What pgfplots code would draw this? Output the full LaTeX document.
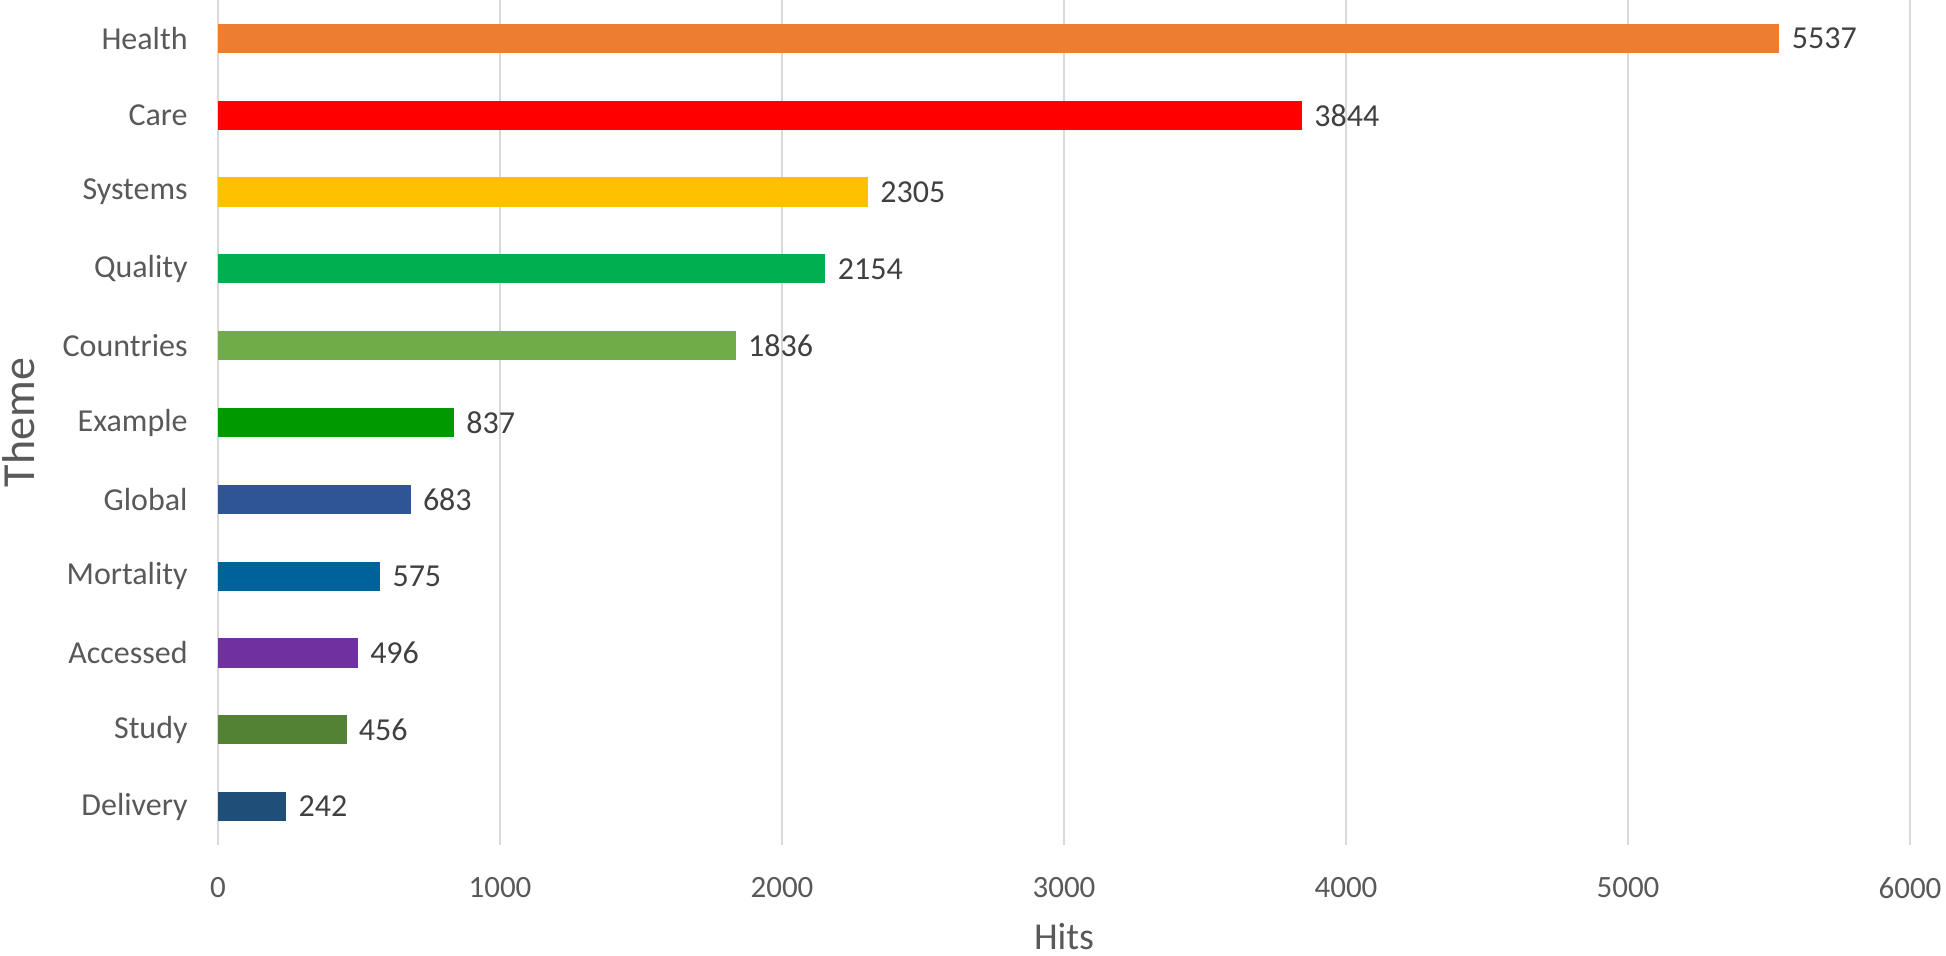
\documentclass[border=0pt]{standalone}
\usepackage{fontspec}
\setmainfont{Carlito}
\usepackage{pgfplots}
\pgfplotsset{compat=1.18}

\definecolor{txtgray}{RGB}{89,89,89}
\definecolor{lblgray}{RGB}{64,64,64}
\definecolor{gridgray}{RGB}{217,217,217}
\definecolor{cHealth}{RGB}{237,125,49}
\definecolor{cCare}{RGB}{255,0,0}
\definecolor{cSystems}{RGB}{255,192,0}
\definecolor{cQuality}{RGB}{0,176,80}
\definecolor{cCountries}{RGB}{112,173,71}
\definecolor{cExample}{RGB}{0,153,0}
\definecolor{cGlobal}{RGB}{47,85,151}
\definecolor{cMortality}{RGB}{0,98,155}
\definecolor{cAccessed}{RGB}{112,48,160}
\definecolor{cStudy}{RGB}{84,130,53}
\definecolor{cDelivery}{RGB}{31,78,121}

\begin{document}
\begin{tikzpicture}
\begin{axis}[
	scale only axis,
	width=846pt, height=422.5pt,
	xmin=0, xmax=6000,
	ymin=-0.5, ymax=10.5,
	xbar, bar width=0.38, bar shift=0pt,
	axis line style={draw=none},
	major tick length=0pt,
	xmajorgrids,
	grid style={gridgray, line width=0.8pt},
	xtick={0,1000,...,6000},
	scaled x ticks=false,
	ytick={0,...,10},
	yticklabels={Delivery,Study,Accessed,Mortality,Global,Example,Countries,Quality,Systems,Care,Health},
	/pgf/number format/assume math mode=true,
	xticklabel style={font=\fontsize{15.5}{18}\selectfont, color=txtgray, anchor=center, yshift=-21.5pt,
		/pgf/number format/1000 sep={}},
	yticklabel style={font=\fontsize{16}{19}\selectfont, color=txtgray, anchor=east, inner sep=0pt, xshift=-15pt},
	xlabel={Hits},
	ylabel={Theme},
	xlabel style={font=\fontsize{19}{22}\selectfont, color=txtgray, at={(axis description cs:0.5,-0.108)}, anchor=center},
	ylabel style={font=\fontsize{23}{26}\selectfont, color=txtgray, at={(axis description cs:-0.118,0.5)}, anchor=center, rotate=0},
	point meta=x,
	nodes near coords={\pgfmathprintnumber[1000 sep={}]{\pgfplotspointmeta}},
	every node near coord/.append style={font=\fontsize{16}{19}\selectfont, color=lblgray, anchor=west, inner sep=0pt, xshift=6pt},
]
\addplot[fill=cHealth, draw=none] coordinates {(5537,10)};
\addplot[fill=cCare, draw=none] coordinates {(3844,9)};
\addplot[fill=cSystems, draw=none] coordinates {(2305,8)};
\addplot[fill=cQuality, draw=none] coordinates {(2154,7)};
\addplot[fill=cCountries, draw=none] coordinates {(1836,6)};
\addplot[fill=cExample, draw=none] coordinates {(837,5)};
\addplot[fill=cGlobal, draw=none] coordinates {(683,4)};
\addplot[fill=cMortality, draw=none] coordinates {(575,3)};
\addplot[fill=cAccessed, draw=none] coordinates {(496,2)};
\addplot[fill=cStudy, draw=none] coordinates {(456,1)};
\addplot[fill=cDelivery, draw=none] coordinates {(242,0)};
\end{axis}
\pgfresetboundingbox
\path[use as bounding box] ([shift={(-109pt,-55.5pt)}]current axis.south west) rectangle ([shift={(18pt,0pt)}]current axis.north east);
\end{tikzpicture}
\end{document}
